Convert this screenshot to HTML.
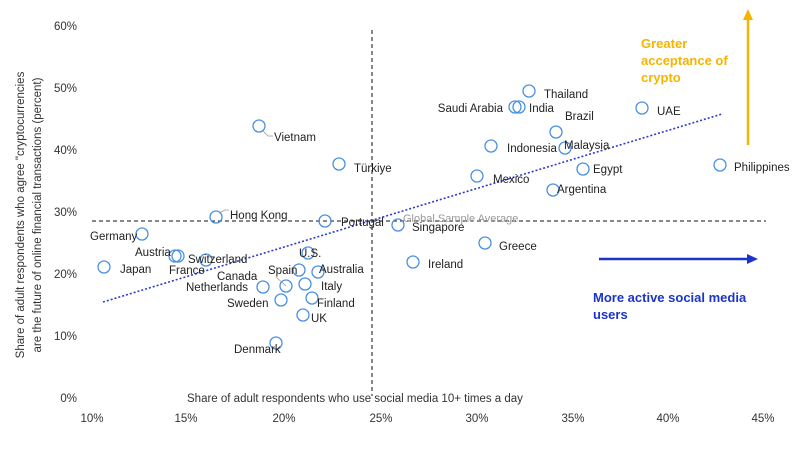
<!DOCTYPE html>
<html><head><meta charset="utf-8"><style>
html,body{margin:0;padding:0;background:#fff;}
svg{display:block;font-family:"Liberation Sans","DejaVu Sans",sans-serif;}
.t{font-size:11.5px;fill:#222;}
.a{font-size:11.5px;fill:#333;}
circle{fill:none;stroke:#4a90e2;stroke-width:1.3;}
</style></head><body>
<svg width="800" height="450" viewBox="0 0 800 450" xmlns="http://www.w3.org/2000/svg">
<!-- reference lines -->
<line x1="372" y1="30" x2="372" y2="396" stroke="#111" stroke-width="1" stroke-dasharray="4,3"/>
<line x1="92" y1="221" x2="766" y2="221" stroke="#111" stroke-width="1" stroke-dasharray="4,3"/>
<text x="403" y="222" font-size="11" fill="#999">Global Sample Average</text>
<!-- trend -->
<line x1="103" y1="302" x2="722" y2="114" stroke="#2a3ccf" stroke-width="1.6" stroke-dasharray="2,2"/>
<!-- y ticks -->
<g class="a" text-anchor="end">
<text x="77" y="30">60%</text><text x="77" y="92">50%</text><text x="77" y="154">40%</text>
<text x="77" y="216">30%</text><text x="77" y="278">20%</text><text x="77" y="340">10%</text>
<text x="77" y="402">0%</text></g>
<g class="a" text-anchor="middle">
<text x="92" y="422">10%</text><text x="186" y="422">15%</text><text x="284" y="422">20%</text>
<text x="381" y="422">25%</text><text x="477" y="422">30%</text><text x="573" y="422">35%</text>
<text x="668" y="422">40%</text><text x="763" y="422">45%</text></g>
<text class="a" x="187" y="402">Share of adult respondents who use social media 10+ times a day</text>
<g class="a" text-anchor="middle">
<text transform="translate(24,215) rotate(-90)">Share of adult respondents who agree "cryptocurrencies</text>
<text transform="translate(41,215) rotate(-90)">are the future of online financial transactions (percent)</text></g>
<!-- arrows -->
<line x1="748" y1="145" x2="748" y2="18" stroke="#f5b400" stroke-width="2.5"/>
<polygon points="748,9 743,20 753,20" fill="#f5b400"/>
<g font-size="13" font-weight="bold" fill="#f5b400">
<text x="641" y="48">Greater</text><text x="641" y="65">acceptance of</text><text x="641" y="82">crypto</text></g>
<line x1="599" y1="259" x2="750" y2="259" stroke="#1a35c8" stroke-width="2.5"/>
<polygon points="758,259 747,254 747,264" fill="#1a35c8"/>
<g font-size="13" font-weight="bold" fill="#1a35c8">
<text x="593" y="302">More active social media</text><text x="593" y="319">users</text></g>
<!-- points -->
<g>
<circle cx="259" cy="126" r="6"/><circle cx="339" cy="164" r="6"/><circle cx="529" cy="91" r="6"/>
<circle cx="515" cy="107" r="6"/><circle cx="519" cy="107" r="6"/><circle cx="556" cy="132" r="6"/>
<circle cx="642" cy="108" r="6"/><circle cx="491" cy="146" r="6"/><circle cx="565" cy="148" r="6"/>
<circle cx="477" cy="176" r="6"/><circle cx="583" cy="169" r="6"/><circle cx="553" cy="190" r="6"/>
<circle cx="720" cy="165" r="6"/><circle cx="398" cy="225" r="6"/><circle cx="485" cy="243" r="6"/>
<circle cx="413" cy="262" r="6"/><circle cx="216" cy="217" r="6"/><circle cx="325" cy="221" r="6"/>
<circle cx="142" cy="234" r="6"/><circle cx="175" cy="256" r="6"/><circle cx="178" cy="256" r="6"/>
<circle cx="206" cy="260" r="6"/><circle cx="104" cy="267" r="6"/><circle cx="308" cy="253" r="6"/>
<circle cx="299" cy="270" r="6"/><circle cx="318" cy="272" r="6"/><circle cx="286" cy="286" r="6"/>
<circle cx="263" cy="287" r="6"/><circle cx="305" cy="284" r="6"/><circle cx="281" cy="300" r="6"/>
<circle cx="312" cy="298" r="6"/><circle cx="303" cy="315" r="6"/><circle cx="276" cy="343" r="6"/>
</g>
<g stroke="#999" stroke-width="0.8" fill="none">
<path d="M263,131 L268,136 L273,136"/><path d="M219,213 L225,210 L229,210"/><path d="M276,277 L286,286"/>
</g>
<g class="t">
<text x="274" y="141">Vietnam</text><text x="354" y="172">Türkiye</text><text x="544" y="98">Thailand</text>
<text x="503" y="112" text-anchor="end">Saudi Arabia</text><text x="529" y="112">India</text>
<text x="565" y="120">Brazil</text><text x="657" y="115">UAE</text><text x="507" y="152">Indonesia</text>
<text x="564" y="149">Malaysia</text><text x="493" y="183">Mexico</text><text x="593" y="173">Egypt</text>
<text x="557" y="193">Argentina</text><text x="734" y="171">Philippines</text><text x="412" y="231">Singapore</text>
<text x="499" y="250">Greece</text><text x="428" y="268">Ireland</text><text x="230" y="219">Hong Kong</text>
<text x="341" y="226">Portugal</text><text x="90" y="240">Germany</text><text x="135" y="256">Austria</text>
<text x="188" y="263">Switzerland</text><text x="120" y="273">Japan</text><text x="169" y="274">France</text>
<text x="299" y="257">U.S.</text><text x="268" y="274">Spain</text><text x="319" y="273">Australia</text>
<text x="217" y="280">Canada</text><text x="186" y="291">Netherlands</text><text x="321" y="290">Italy</text>
<text x="227" y="307">Sweden</text><text x="317" y="307">Finland</text><text x="311" y="322">UK</text>
<text x="234" y="353">Denmark</text>
</g>
</svg>
</body></html>
